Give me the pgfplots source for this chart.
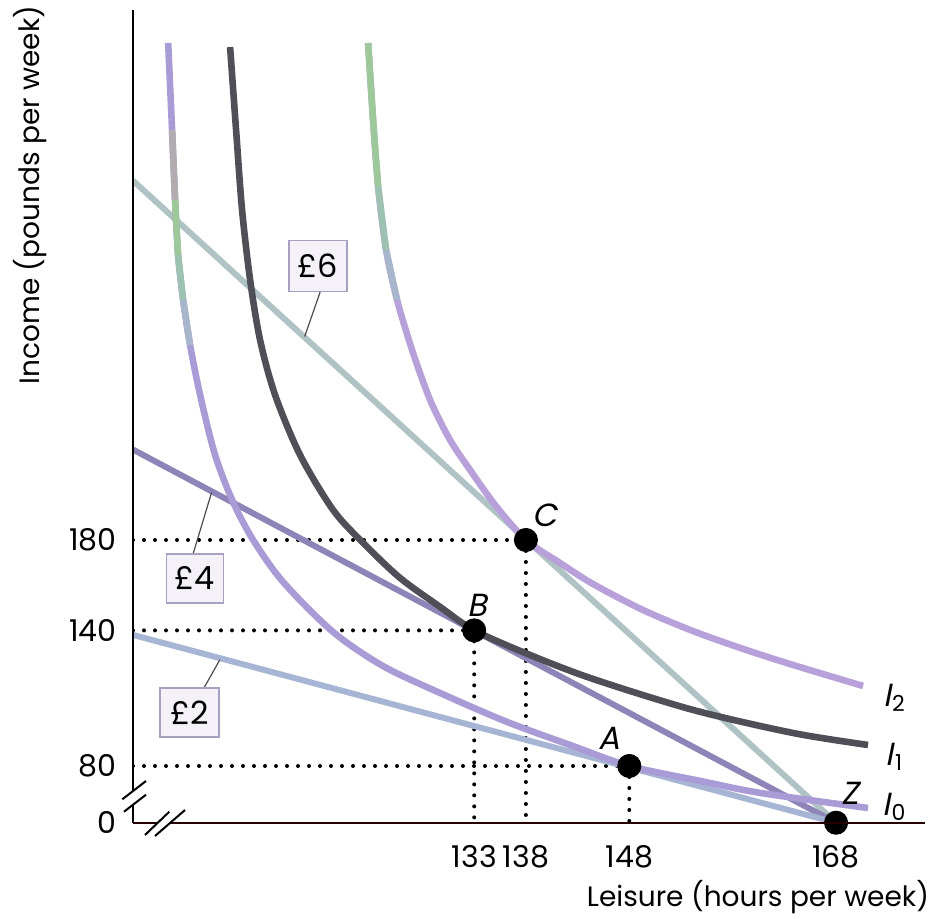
\documentclass[border=0pt]{standalone}
\usepackage{pgfplots}
\pgfplotsset{compat=1.18}
\usepackage{fontspec}
\setmainfont{Poppins}
\newfontfamily\ifont{Poppins}[FakeSlant=0.2]

\definecolor{izero}{HTML}{A99CD6}
\definecolor{ione}{HTML}{4F4F57}
\definecolor{itwo}{HTML}{B8A0DA}
\definecolor{wtwo}{HTML}{A7B5D5}
\definecolor{wfour}{HTML}{8E84B8}
\definecolor{wsix}{HTML}{AFC3C5}
\definecolor{topgreen}{HTML}{9CC89A}
\definecolor{topmid}{HTML}{9EC2B2}
\definecolor{topteal}{HTML}{A8B6CC}
\definecolor{topgray}{HTML}{B2ABB0}
\definecolor{boxfill}{HTML}{F4F2F8}
\definecolor{boxline}{HTML}{A8A0C0}

\newcommand{\lab}[1]{\fontsize{16}{19}\selectfont\ifont #1}
\newcommand{\Isub}[1]{{\fontsize{16}{19}\selectfont\ifont I}\kern0.6pt\raisebox{-0.45ex}{\fontsize{11}{12}\selectfont #1}}

\pgfplotsset{guide/.style={black, line width=2pt, line cap=round, dash pattern=on 0pt off 5.5pt}}

\begin{document}
\begin{tikzpicture}
\begin{axis}[
  name=ax,
  scale only axis,
  width=396pt, height=406.35pt,
  xmin=100, xmax=176.6, ymin=54.9, ymax=414.5,
  axis line style={draw=none},
  xtick={133,138,148,168},
  xticklabels={133,138,148,168},
  ytick={54.9,80,140,180},
  yticklabels={0,80,140,180},
  major tick length=0pt,
  tick style={draw=none},
  /pgf/number format/assume math mode=true,
  ticklabel style={font=\fontsize{15}{18}\selectfont, inner sep=0pt},
  xticklabel style={anchor=north, yshift=-11pt},
  yticklabel style={anchor=east, xshift=-8pt},
]
% guide lines
\addplot[guide] coordinates {(100,180) (138,180)};
\addplot[guide] coordinates {(100,140) (133,140)};
\addplot[guide] coordinates {(100,80) (148,80)};
\addplot[guide] coordinates {(138,180) (138,54.9)};
\addplot[guide] coordinates {(133,140) (133,54.9)};
\addplot[guide] coordinates {(148,80) (148,54.9)};

% budget lines (wage rates)
\addplot[wsix, line width=3pt] coordinates {(100,339) (168,54.9)};
\addplot[wfour, line width=3pt] coordinates {(100,220) (168,54.9)};
\addplot[wtwo, line width=3pt] coordinates {(100,138) (168,54.9)};

% indifference curves
\addplot[izero, line width=3.3pt, smooth, tension=0.5] coordinates {
(103.40,399.9) (103.78,361.4) (104.07,330.4) (104.36,306.1) (104.85,286.2)
(105.52,266.3) (106.49,244.2) (107.94,217.6) (109.68,196.8) (111.62,180)
(114.52,161.4) (119.35,139.3) (124.19,124.2) (129.70,112.3) (136.18,99.5)
(142.56,88.8) (148,80) (154.85,73.4) (160.65,68.1) (171.09,61.4)};
\addplot[topgray, line width=3.3pt] coordinates {(103.78,361.4) (104.07,330.4)};
\addplot[topgreen, line width=3.3pt] coordinates {(104.07,330.4) (104.36,306.1)};
\addplot[topmid, line width=3.3pt] coordinates {(104.36,306.1) (104.85,286.2)};
\addplot[topteal, line width=3.3pt] coordinates {(104.85,286.2) (105.52,266.3)};

\addplot[itwo, line width=3.3pt, smooth, tension=0.5] coordinates {
(122.74,399.9) (123.22,365.8) (123.71,336.2) (124.48,308.3) (125.54,286.2)
(126.99,264.1) (128.74,241.9) (130.67,224.2) (132.60,211.0) (135.02,195.5)
(138,180) (141.31,169.8) (144.50,160.5) (149.33,149.0) (154.17,139.7)
(159.01,131.8) (163.84,124.7) (170.61,115.4)};
\addplot[topgreen, line width=3.3pt] coordinates {(122.74,399.9) (123.22,365.8) (123.71,336.2)};
\addplot[topmid, line width=3.3pt] coordinates {(123.71,336.2) (124.48,308.3)};
\addplot[topteal, line width=3.3pt] coordinates {(124.48,308.3) (125.54,286.2)};

\addplot[ione, line width=3.3pt, smooth, tension=0.5] coordinates {
(109.39,398.1) (109.97,361.4) (110.55,326.0) (111.33,295.0) (112.29,268.5)
(113.74,244.2) (116.16,217.6) (119.35,193.3) (122.26,178.7) (125.83,163.2)
(129.70,150.4) (133,140) (138.41,129.1) (144.50,118.5) (154.17,104.8)
(163.84,94.6) (171.09,89.3)};

% points
\addplot[only marks, mark=*, mark size=5.8pt, black] coordinates {(138,180) (133,140) (148,80) (168,54.9)};

% leaders
\addplot[black!70, line width=0.6pt] coordinates {(118.1,289.7) (116.6,270)};
\addplot[black!70, line width=0.6pt] coordinates {(105.81,173.8) (107.6,201)};
\addplot[black!70, line width=0.6pt] coordinates {(106.86,114.5) (108.4,127)};

% wage boxes
\node[draw=boxline, fill=boxfill, line width=0.6pt, minimum width=29pt, minimum height=25.5pt, inner sep=0pt, font=\fontsize{16}{19}\selectfont] at (axis cs:117.9,301.2) {£6};
\node[draw=boxline, fill=boxfill, line width=0.6pt, minimum width=28.5pt, minimum height=24.5pt, inner sep=0pt, font=\fontsize{16}{19}\selectfont] at (axis cs:105.96,163.0) {£4};
\node[draw=boxline, fill=boxfill, line width=0.6pt, minimum width=29.5pt, minimum height=24.5pt, inner sep=0pt, font=\fontsize{16}{19}\selectfont] at (axis cs:105.47,103.7) {£2};

% point labels
\node at (axis cs:139.86,191.1) {\lab{C}};
\node at (axis cs:133.28,151.2) {\lab{B}};
\node at (axis cs:146.05,92.4) {\lab{A}};
\node at (axis cs:169.35,68.1) {\lab{Z}};
\node at (axis cs:173.6,110.1) {\Isub{2}};
\node at (axis cs:173.6,84.0) {\Isub{1}};
\node at (axis cs:173.6,61.9) {\Isub{0}};
\end{axis}

% axes, breaks and titles, in reference pixels from the origin
\begin{scope}[shift={(ax.south west)}, x=0.5pt, y=-0.5pt]
  \draw[black, line width=1pt] (0,0) -- (0,-18);
  \draw[black, line width=1pt] (0,-31.7) -- (0,-812.7);
  \draw[black!85!red, line width=1.1pt] (0,0) -- (24.8,0);
  \draw[black!85!red, line width=1.1pt] (37.3,0) -- (792,0);
  \draw[black, line width=1pt] (-10.7,-23.4) -- (13,-41.7);
  \draw[black, line width=1pt] (-9,-11) -- (13,-28);
  \draw[black, line width=1pt] (12,12.3) -- (36.3,-11);
  \draw[black, line width=1pt] (22,13.3) -- (52,-12.7);
  \node[font=\fontsize{14}{17}\selectfont] at (625,74.3) {Leisure (hours per week)};
  \node[font=\fontsize{14}{17}\selectfont, rotate=90] at (-103,-627.7) {Income (pounds per week)};
  \pgfresetboundingbox
  \path[use as bounding box] (-133,95.3) rectangle (797,-822.7);
\end{scope}
\end{tikzpicture}
\end{document}
